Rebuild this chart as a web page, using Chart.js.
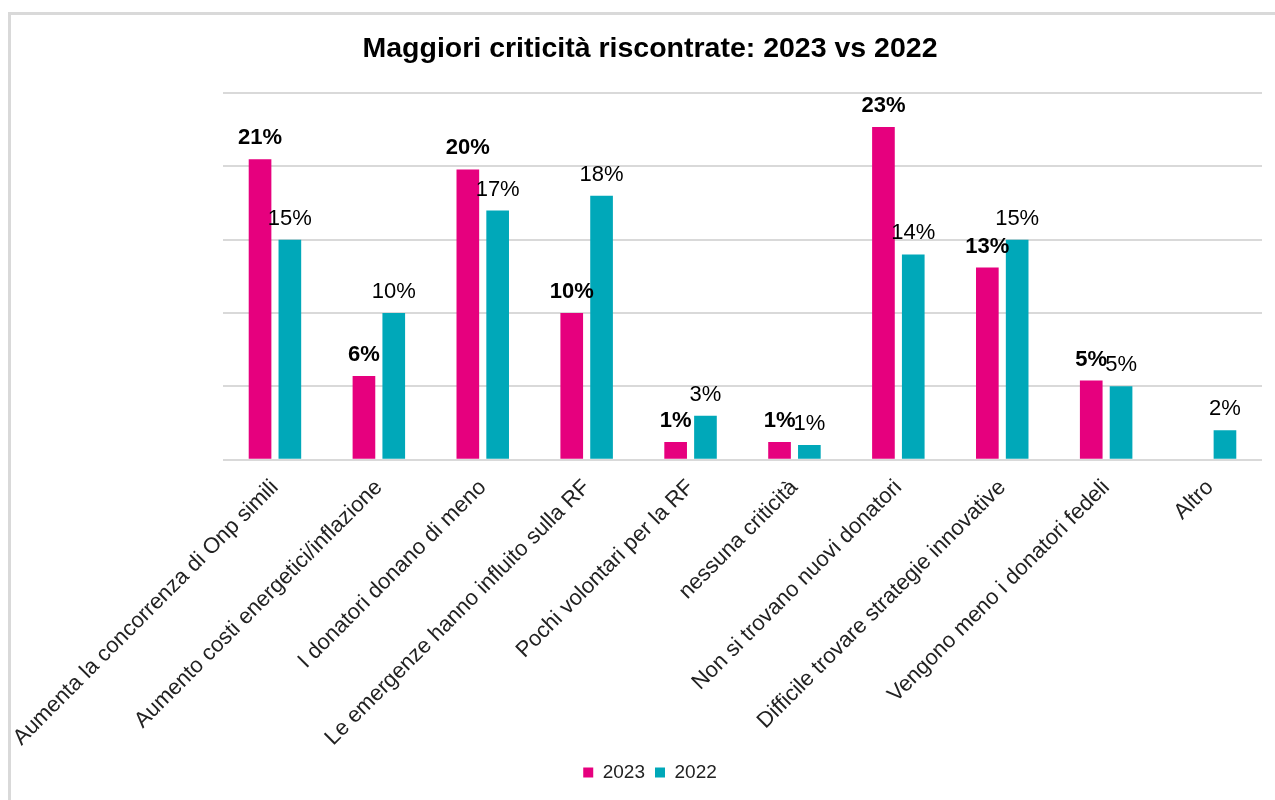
<!DOCTYPE html>
<html>
<head>
<meta charset="utf-8">
<script src="https://cdn.jsdelivr.net/npm/chart.js@4/dist/chart.umd.min.js"></script>
<style>
  html, body { margin: 0; padding: 0; background: #fff; overflow: hidden; }
  body { width: 1275px; height: 800px; position: relative; }
  /* light frame, top + left only, like the exported chart */
  .frame {
    position: absolute; left: 8px; top: 12px; width: 1300px; height: 800px;
    border-top: 3px solid #d9d9d9; border-left: 3px solid #d9d9d9;
  }
  .wrap { position: absolute; left: 0; top: 0; width: 1275px; height: 800px; }
</style>
</head>
<body>
<div class="frame"></div>
<div class="wrap"><canvas id="chart"></canvas></div>
<script>
// ---- Data ----
const categories = [
  'Aumenta la concorrenza di Onp simili',
  'Aumento costi energetici/inflazione',
  'I donatori donano di meno',
  'Le emergenze hanno influito sulla RF',
  'Pochi volontari per la RF',
  'nessuna criticità',
  'Non si trovano nuovi donatori',
  'Difficile trovare strategie innovative',
  'Vengono meno i donatori fedeli',
  'Altro'
];
const values2023 = [20.5, 5.7, 19.8, 10.0, 1.2, 1.2, 22.7, 13.1, 5.4, null];
const values2022 = [15.0, 10.0, 17.0, 18.0, 3.0, 1.0, 14.0, 15.0, 5.0, 2.0];
const yTicks = [0, 5, 10, 15, 20, 25];

const PINK = '#e6007e';
const TEAL = '#00a8b9';
const FONT = "Arial, 'Liberation Sans', sans-serif";

// ---- Value labels above bars (2023 bold, 2022 regular) ----
const barLabels = {
  id: 'barLabels',
  afterDatasetsDraw(chart) {
    const ctx = chart.ctx;
    ctx.save();
    ctx.textAlign = 'center';
    ctx.textBaseline = 'middle';
    ctx.fillStyle = '#000';
    chart.data.datasets.forEach((ds, di) => {
      const meta = chart.getDatasetMeta(di);
      ctx.font = (di === 0 ? 'bold ' : '') + '22px ' + FONT;
      meta.data.forEach((bar, i) => {
        const v = ds.data[i];
        if (v === null || v === undefined) return;
        ctx.fillText(Math.round(v) + '%', bar.x, bar.y - 21);
      });
    });
    ctx.restore();
  }
};

new Chart(document.getElementById('chart'), {
  type: 'bar',
  data: {
    labels: categories,
    datasets: [
      { label: '2023', data: values2023, backgroundColor: PINK },
      { label: '2022', data: values2022, backgroundColor: TEAL }
    ]
  },
  plugins: [barLabels],
  options: {
    responsive: true,
    maintainAspectRatio: false,
    animation: false,
    categoryPercentage: 0.574,
    barPercentage: 0.76,
    // title + legend are centred a bit right of the page centre
    layout: { padding: { left: 25, right: 0, bottom: 8 } },
    plugins: {
      title: {
        display: true,
        text: 'Maggiori criticità riscontrate: 2023 vs 2022',
        color: '#000',
        font: { family: FONT, size: 28.5, weight: 'bold' },
        padding: { top: 32, bottom: 27 }
      },
      legend: {
        position: 'bottom',
        labels: {
          color: '#222',
          boxWidth: 10,
          boxHeight: 10,
          padding: 10,
          font: { family: FONT, size: 19 }
        }
      },
      tooltip: { enabled: false }
    },
    scales: {
      x: {
        grid: { display: false },
        border: { display: false },
        afterFit: axis => {
          axis.paddingLeft = 223;
          axis.paddingRight = 13;
          axis.height -= 5;
        },
        ticks: {
          color: '#222',
          minRotation: 45,
          maxRotation: 45,
          autoSkip: false,
          padding: 7,
          font: { family: FONT, size: 22 }
        }
      },
      y: {
        min: yTicks[0],
        max: yTicks[yTicks.length - 1],
        afterBuildTicks: axis => { axis.ticks = yTicks.map(v => ({ value: v })); },
        grid: { color: '#d9d9d9', lineWidth: 2, drawTicks: false },
        border: { display: false },
        ticks: { display: false }
      }
    }
  }
});
</script>
</body>
</html>
